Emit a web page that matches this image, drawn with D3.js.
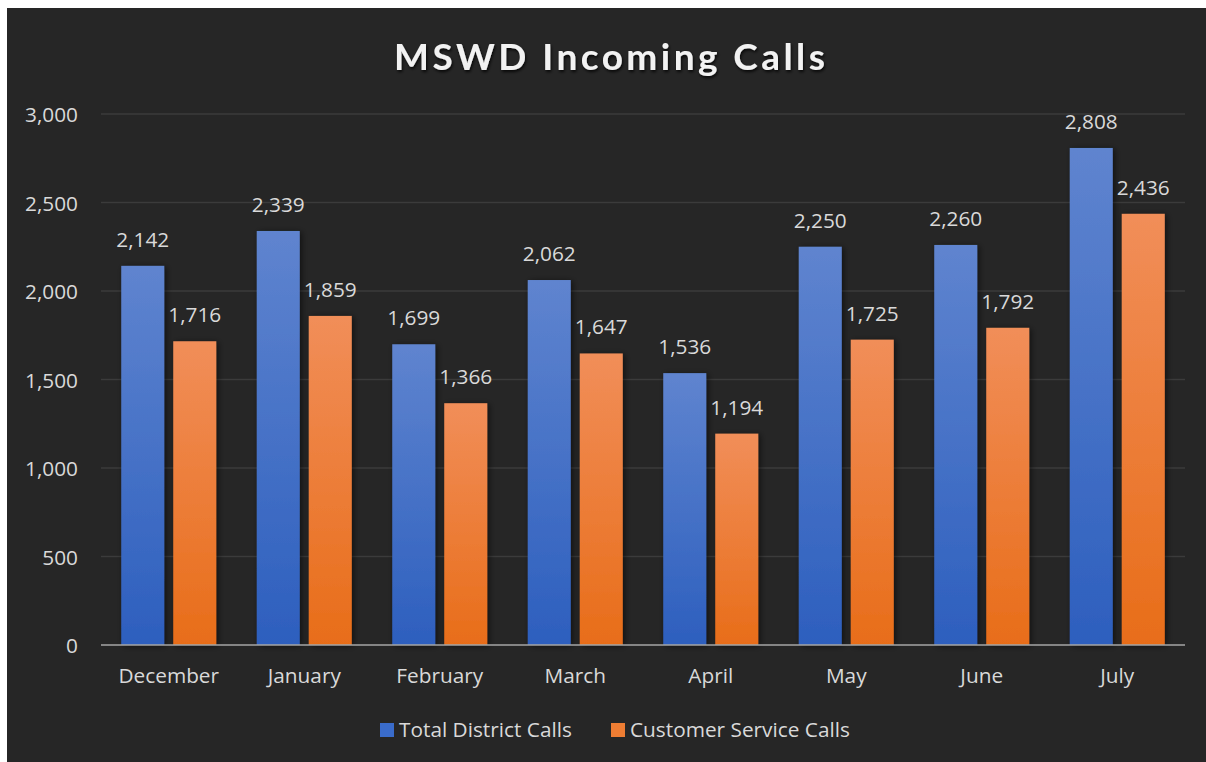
<!DOCTYPE html>
<html><head><meta charset="utf-8">
<script src="https://cdn.jsdelivr.net/npm/d3@7"></script>
<style>
html,body{margin:0;padding:0;background:#ffffff;}
svg{display:block;}
</style></head>
<body>
<svg id="chart" width="1206" height="762"></svg>
<script>
const categories = ["December","January","February","March","April","May","June","July"];
const seriesNames = ["Total District Calls","Customer Service Calls"];
const totalCalls = [2142,2339,1699,2062,1536,2250,2260,2808];
const customerCalls = [1716,1859,1366,1647,1194,1725,1792,2436];
const yTicks = [0,500,1000,1500,2000,2500,3000];
const titleText = "MSWD Incoming Calls";

(function(){
const svg = d3.select("#chart");
const font = "'Open Sans', sans-serif";
const tfont = "Lato, 'Open Sans', sans-serif";
const fs = 20.8;

svg.append("rect").attr("x",7).attr("y",8).attr("width",1199).attr("height",754).attr("fill","#262626");

const defs = svg.append("defs");
const gBlue = defs.append("linearGradient").attr("id","gBlue").attr("x1",0).attr("y1",0).attr("x2",0).attr("y2",1);
gBlue.append("stop").attr("offset","0%").attr("stop-color","#5f84cf");
gBlue.append("stop").attr("offset","100%").attr("stop-color","#2d5fbe");
const gOr = defs.append("linearGradient").attr("id","gOr").attr("x1",0).attr("y1",0).attr("x2",0).attr("y2",1);
gOr.append("stop").attr("offset","0%").attr("stop-color","#f18e59");
gOr.append("stop").attr("offset","100%").attr("stop-color","#e86d19");
const sh = defs.append("filter").attr("id","shadow").attr("x","-30%").attr("y","-10%").attr("width","160%").attr("height","130%");
sh.append("feDropShadow").attr("dx",2).attr("dy",1).attr("stdDeviation",3).attr("flood-color","#000").attr("flood-opacity",0.55);
const tsh = defs.append("filter").attr("id","tshadow").attr("x","-5%").attr("y","-20%").attr("width","110%").attr("height","150%");
tsh.append("feDropShadow").attr("dx",1).attr("dy",2).attr("stdDeviation",1.5).attr("flood-color","#000").attr("flood-opacity",0.8);

const pL = 101, pR = 1185, pT = 114, pB = 645;
const x = d3.scaleBand().domain(categories).range([pL,pR]).padding(0);
const y = d3.scaleLinear().domain([0,3000]).range([pB,pT]);

svg.append("g").selectAll("line").data(yTicks.filter(t=>t>0)).join("line")
  .attr("x1",pL).attr("x2",pR).attr("y1",d=>y(d)).attr("y2",d=>y(d))
  .attr("stroke","#3b3b3b").attr("stroke-width",1.5);

const yAxis = d3.axisLeft(y).tickValues(yTicks).tickFormat(d3.format(",")).tickSize(0).tickPadding(0);
const yg = svg.append("g").attr("transform",`translate(78,0)`).call(yAxis);
yg.select(".domain").remove();
yg.selectAll("text").attr("font-family",font).attr("font-size",fs).attr("fill","#d9d9d9").attr("dy","0.36em");

const bw = 43, gap = 9;
const series = [totalCalls, customerCalls];
const fills = ["url(#gBlue)","url(#gOr)"];
series.forEach((vals,si)=>{
  const off = si===0 ? -gap/2 - bw : gap/2;
  const g = svg.append("g");
  g.selectAll("rect").data(vals).join("rect")
    .attr("x",(d,i)=>x(categories[i])+x.bandwidth()/2+off)
    .attr("y",d=>y(d)).attr("width",bw).attr("height",d=>y(0)-y(d))
    .attr("fill",fills[si]).attr("filter","url(#shadow)");
  g.selectAll("text").data(vals).join("text")
    .attr("x",(d,i)=>x(categories[i])+x.bandwidth()/2+off+bw/2)
    .attr("y",d=>y(d)-19)
    .attr("text-anchor","middle").attr("font-family",font).attr("font-size",fs).attr("fill","#d9d9d9")
    .text(d=>d3.format(",")(d));
});

svg.append("line").attr("x1",pL).attr("x2",pR).attr("y1",y(0)).attr("y2",y(0))
  .attr("stroke","#a6a6a6").attr("stroke-opacity",0.75).attr("stroke-width",2);

const xAxis = d3.axisBottom(x).tickSize(0).tickPadding(0);
const xg = svg.append("g").attr("transform",`translate(0,${pB})`).call(xAxis);
xg.select(".domain").remove();
xg.selectAll("text").attr("font-family",font).attr("font-size",fs).attr("fill","#d9d9d9").attr("dy",0).attr("y",38);

const title = svg.append("text").attr("x",609.5).attr("y",70).attr("text-anchor","middle")
  .attr("font-family",tfont).attr("font-weight","bold").attr("font-size",37).attr("fill","#f2f2f2")
  .attr("filter","url(#tshadow)").text(titleText);
const tw = title.node().getComputedTextLength();
const ls = (431 - tw) / (titleText.length - 1);
title.attr("letter-spacing", ls);
title.attr("x", 609.5 + ls/2);

const legX = [380, 611];
const legColors = ["#3a6ccb","#ee7d33"];
seriesNames.forEach((n,i)=>{
  svg.append("rect").attr("x",legX[i]).attr("y",723).attr("width",14).attr("height",14).attr("fill",legColors[i]);
  svg.append("text").attr("x",legX[i]+19).attr("y",737).attr("font-family",font).attr("font-size",fs).attr("fill","#d9d9d9").text(n);
});
})();
</script>
</body></html>
